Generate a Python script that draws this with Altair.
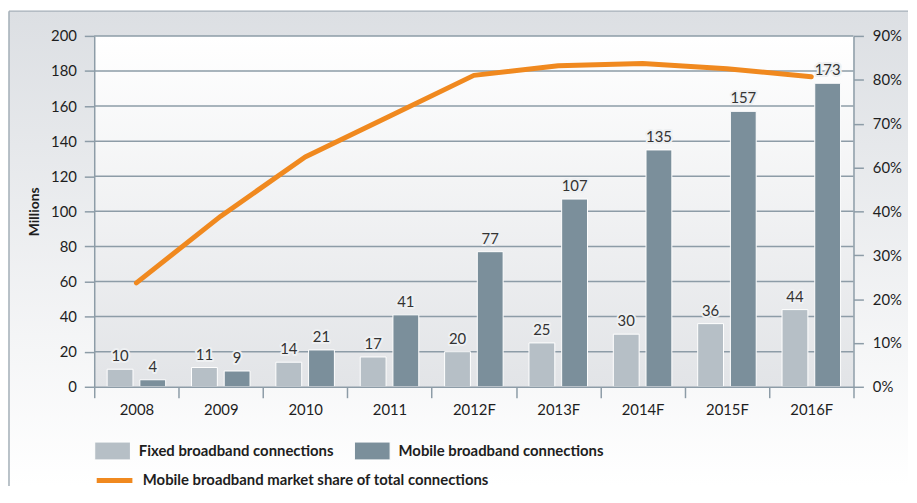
import altair as alt
import pandas as pd

# ---- data ----
years = ["2008", "2009", "2010", "2011", "2012F", "2013F", "2014F", "2015F", "2016F"]
fixed = [10, 11, 14, 17, 20, 25, 30, 36, 44]
mobile = [4, 9, 21, 41, 77, 107, 135, 157, 173]
share_pct = [23.7, 38.9, 62.4, 71.7, 81.0, 83.2, 83.7, 82.5, 80.7]
left_ticks = [0, 20, 40, 60, 80, 100, 120, 140, 160, 180, 200]
right_ticks = [0, 10, 20, 30, 40, 60, 70, 80, 90]

S_FIXED = "Fixed broadband connections"
S_MOBILE = "Mobile broadband connections"
S_LINE = "Mobile broadband market share of total connections"

FONT = "Lato"
FS = 15
W, H = 766, 354
AX = "#8d9ca7"
TXT = "#1e1e1e"

bars_df = pd.DataFrame(
    [{"year": y, "series": S_FIXED, "value": v} for y, v in zip(years, fixed)]
    + [{"year": y, "series": S_MOBILE, "value": v} for y, v in zip(years, mobile)]
)
line_df = pd.DataFrame({"year": years, "share": share_pct, "series": [S_LINE] * len(years)})
grid_df = pd.DataFrame({"value": left_ticks[1:]})
one = pd.DataFrame({"a": [0]})

x_enc = alt.X(
    "year:N",
    sort=years,
    scale=alt.Scale(paddingInner=0, paddingOuter=0),
    axis=alt.Axis(
        title=None, labelAngle=0, tickBand="extent", tickSize=11, tickColor=AX, tickWidth=1.5,
        domainColor=AX, domainWidth=1.5, labelPadding=5, labelFontSize=FS, labelColor=TXT,
        labelFont=FONT, grid=False, zindex=1,
    ),
)
y_left = alt.Y(
    "value:Q",
    scale=alt.Scale(domain=[0, 200], nice=False),
    axis=alt.Axis(
        values=left_ticks, grid=False, tickSize=10, tickColor=AX, tickWidth=1.5,
        domainColor=AX, domainWidth=1.5, labelPadding=8, labelFontSize=FS, labelColor=TXT,
        labelFont=FONT, title="Millions", titleFont=FONT, titleFontSize=14, titleFontWeight="bold",
        titleColor=TXT, titlePadding=9, zindex=1,
    ),
)
xoff = alt.XOffset("series:N", scale=alt.Scale(domain=[S_FIXED, S_MOBILE], paddingInner=0.21, paddingOuter=0.395))

outer_bg = alt.Chart(one).mark_rect(
    fill=alt.Gradient(
        gradient="linear",
        stops=[alt.GradientStop(color="#dcdfe3", offset=0), alt.GradientStop(color="#ffffff", offset=1)],
        x1=0, x2=0, y1=0, y2=1,
    )
).encode(x=alt.value(-86), x2=alt.value(W + 55), y=alt.value(-25), y2=alt.value(H + 100))

border_top = alt.Chart(one).mark_rule(color="#a3aeb7", strokeWidth=1.5).encode(
    x=alt.value(-86), x2=alt.value(W + 55), y=alt.value(-25)
)
border_left = alt.Chart(one).mark_rule(color="#a3aeb7", strokeWidth=1.5).encode(
    x=alt.value(-86), y=alt.value(-25), y2=alt.value(H + 100)
)

plot_bg = alt.Chart(one).mark_rect(
    fill=alt.Gradient(
        gradient="linear",
        stops=[alt.GradientStop(color="#ffffff", offset=0), alt.GradientStop(color="#e2e4e7", offset=1)],
        x1=0, x2=0, y1=0, y2=1,
    )
).encode(x=alt.value(0), x2=alt.value(W), y=alt.value(0), y2=alt.value(H))

grid = alt.Chart(grid_df).mark_rule(color=AX, strokeWidth=1.5).encode(
    y=y_left, x=alt.value(0), x2=alt.value(W)
)

bars = alt.Chart(bars_df).mark_bar(stroke="white", strokeWidth=1).encode(
    x=x_enc,
    xOffset=xoff,
    y=y_left,
    color=alt.Color(
        "series:N",
        scale=alt.Scale(domain=[S_FIXED, S_MOBILE], range=["#b6bfc6", "#7b8f9b"]),
        legend=alt.Legend(
            orient="none", legendX=0, legendY=400, direction="horizontal", columns=2, title=None,
            symbolType="M-1,-0.5H1V0.5H-1Z", symbolSize=1296, symbolStrokeColor="white",
            symbolStrokeWidth=1, symbolOpacity=1, labelFont=FONT, labelFontSize=FS,
            labelFontWeight="bold", labelColor=TXT, labelOffset=8, columnPadding=18, padding=0,
            labelLimit=400,
        ),
    ),
)

halo = alt.Chart(bars_df).mark_text(
    baseline="alphabetic", dy=-8, font=FONT, fontSize=FS, stroke="#eef0f2", strokeWidth=4,
    strokeJoin="round", fill="#eef0f2",
).encode(x=x_enc, xOffset=xoff, y=y_left, text=alt.Text("value:Q"))

labels = alt.Chart(bars_df).mark_text(
    baseline="alphabetic", dy=-8, font=FONT, fontSize=FS, color="#333333",
).encode(x=x_enc, xOffset=xoff, y=y_left, text=alt.Text("value:Q"))

left_group = alt.layer(outer_bg, border_top, border_left, plot_bg, grid, bars, halo, labels)

line = alt.Chart(line_df).mark_line(strokeWidth=5, strokeCap="round", strokeJoin="round").encode(
    x=x_enc,
    y=alt.Y(
        "share:Q",
        scale=alt.Scale(domain=[0, 40, 60, 90], range=[H, H - 4 * H / 8, H - 5 * H / 8, 0], nice=False, zero=False),
        axis=alt.Axis(
            orient="right", values=right_ticks, labelExpr="datum.value + '%'", grid=False, title=None,
            tickSize=10, tickColor=AX, tickWidth=1.5, domainColor=AX, domainWidth=1.5,
            labelPadding=9, labelFontSize=FS, labelColor=TXT, labelFont=FONT, zindex=1,
        ),
    ),
    stroke=alt.Stroke(
        "series:N",
        scale=alt.Scale(domain=[S_LINE], range=["#f0891f"]),
        legend=alt.Legend(
            orient="none", legendX=0, legendY=428, title=None, symbolType="stroke", symbolSize=1296,
            symbolStrokeWidth=5, labelFont=FONT, labelFontSize=FS, labelFontWeight="bold",
            labelColor=TXT, labelOffset=8, padding=0, labelLimit=500,
        ),
    ),
)

chart = (
    alt.layer(left_group, line)
    .resolve_scale(y="independent")
    .properties(width=W, height=H, padding={"top": 0, "left": 0, "right": 0, "bottom": 0}, background="white")
    .configure_view(stroke=None)
)

chart.save("out.html", embed_options={"renderer": "svg", "actions": False})
